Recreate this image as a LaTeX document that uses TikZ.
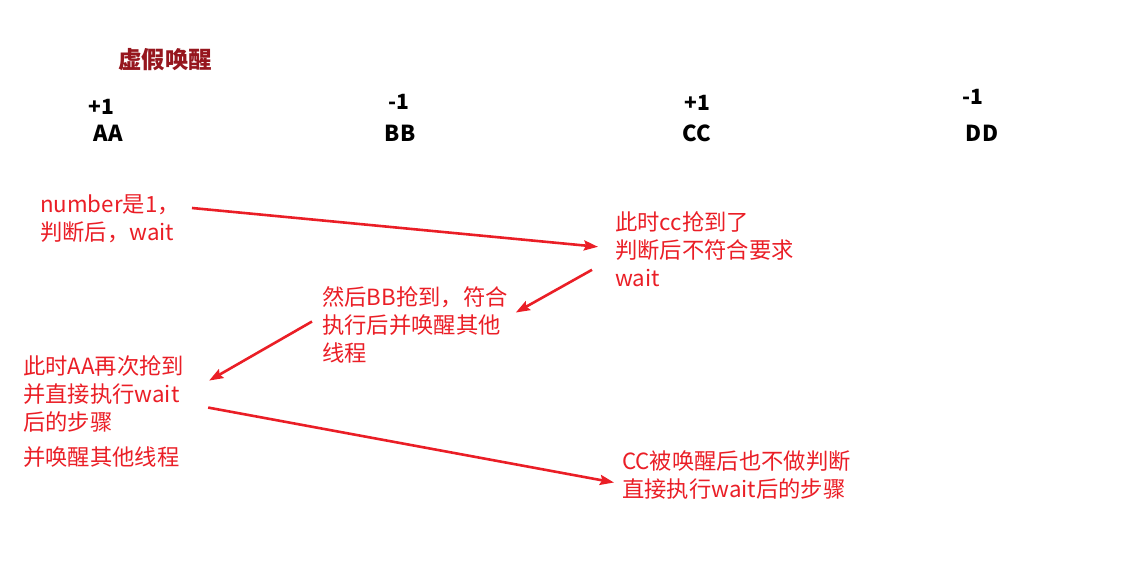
\documentclass[tikz,border=0pt]{standalone}
\usepackage{fontspec}
\setmainfont{Noto Sans CJK SC}
\usepackage{tikz}
\usetikzlibrary{arrows.meta,positioning}

\definecolor{notered}{RGB}{234,30,38}
\definecolor{titlered}{RGB}{150,22,30}

\begin{document}
\begin{tikzpicture}[
  x=1pt, y=-1pt,
  note/.style={anchor=north west, align=left, inner sep=0pt, text=notered,
    font=\fontsize{22.3}{28}\selectfont},
  tag/.style={inner sep=0pt, font=\fontsize{22}{24}\selectfont\bfseries},
  delta/.style={inner sep=0pt, font=\fontsize{21}{22}\selectfont\bfseries},
  arr/.style={draw=notered, line width=2.6pt, ->,
    >={Stealth[length=14pt,width=10pt,inset=2pt]}}
]
\useasboundingbox (0,0) rectangle (1133,567);

% title
\node[inner sep=0pt, text=titlered, font=\fontsize{23.5}{26}\selectfont\bfseries] (title) at (165,60) {虚假唤醒};

% threads
\node[tag] (aa) at (108,133) {AA};
\node[tag] (bb) at (400,133) {BB};
\node[tag] (cc) at (697,133) {CC};
\node[tag] (dd) at (982,133) {DD};
\node[delta] (da) at (101,107) {+1};
\node[delta] (db) at (399,102) {-1};
\node[delta] (dc) at (697,103) {+1};
\node[delta] (dd1) at (973,97) {-1};

% steps
\node[note] (n1) at (40,194) {number是1，\\判断后，wait};
\node[note] (n2) at (615,211) {此时cc抢到了\\判断后不符合要求\\wait};
\node[note] (n3) at (322,286) {然后BB抢到，符合\\执行后并唤醒其他\\线程};
\node[note] (n4) at (23,355) {此时AA再次抢到\\并直接执行wait\\后的步骤};
\node[note] (n4b) at (23,446) {并唤醒其他线程};
\node[note] (n5) at (622,451) {CC被唤醒后也不做判断\\直接执行wait后的步骤};

% order of events
\draw[arr] ([xshift=12pt,yshift=-14pt]n1.north east) -- ([xshift=-17pt,yshift=2pt]n2.west);
\draw[arr] ([xshift=-23pt,yshift=-21pt]n2.west) -- ([xshift=8pt,yshift=12pt]n3.east);
\draw[arr] ([xshift=-10pt,yshift=3pt]n3.west) -- ([xshift=25pt,yshift=13pt]n4.east);
\draw[arr] ([xshift=24pt,yshift=-14pt]n4.east) -- ([xshift=-8pt,yshift=-7pt]n5.west);
\end{tikzpicture}
\end{document}
